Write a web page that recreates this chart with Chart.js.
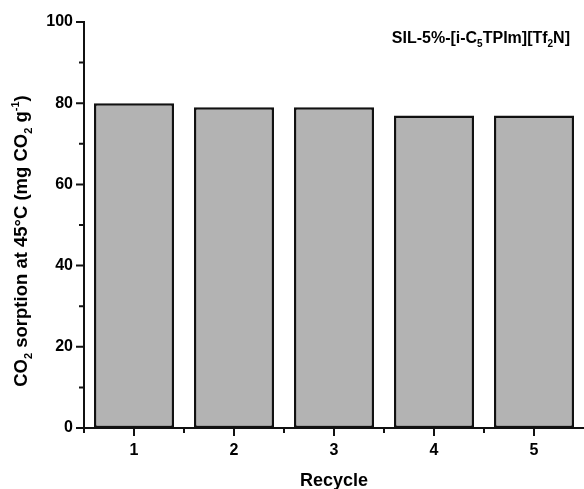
<!DOCTYPE html>
<html>
<head>
<meta charset="utf-8">
<script src="https://cdn.jsdelivr.net/npm/chart.js@4/dist/chart.umd.min.js"></script>
<style>
  html, body { margin: 0; background: #fff; }
  #wrap { width: 584px; height: 489px; }
</style>
</head>
<body>
<div id="wrap"><canvas id="chart"></canvas></div>
<script>
const recycles = ['1', '2', '3', '4', '5'];
const sorption = [80, 79, 79, 77, 77];
const yTicks = [0, 20, 40, 60, 80, 100];

// text pieces: [text, 'sub' | 'sup' | undefined]
const yTitle = [['CO'], ['2', 'sub'], [' sorption at 45°C (mg CO'], ['2', 'sub'], [' g'], ['-1', 'sup'], [')']];
const note = [['SIL-5%-[i-C'], ['5', 'sub'], ['TPIm][Tf'], ['2', 'sub'], ['N]']];

const FONT = '"Liberation Sans", Arial, sans-serif';

function partFont(p, size) {
    let s = p[1] ? Math.round(size * 0.62) : size;
    return 'bold ' + s + 'px ' + FONT;
}

function richWidth(ctx, parts, size) {
    let w = 0;
    parts.forEach(p => {
        ctx.font = partFont(p, size);
        w += ctx.measureText(p[0]).width;
    });
    return w;
}

// draws from x (left), y = baseline
function drawRich(ctx, parts, x, y, size) {
    ctx.fillStyle = '#000';
    ctx.textBaseline = 'alphabetic';
    ctx.textAlign = 'left';
    parts.forEach(p => {
        ctx.font = partFont(p, size);
        let dy = 0;
        if (p[1] === 'sub') dy = size * 0.28;
        if (p[1] === 'sup') dy = -size * 0.42;
        ctx.fillText(p[0], x, y + dy);
        x += ctx.measureText(p[0]).width;
    });
}

const extras = {
    id: 'extras',
    afterDraw(chart) {
        const ctx = chart.ctx;
        const xs = chart.scales.x;
        const ys = chart.scales.y;
        const area = chart.chartArea;
        ctx.save();
        ctx.strokeStyle = '#111';
        ctx.lineWidth = 2;
        ctx.beginPath();
        // y ticks, major + minor between
        yTicks.forEach((v, i) => {
            let py = ys.getPixelForValue(v);
            ctx.moveTo(area.left - 8, py);
            ctx.lineTo(area.left, py);
            if (i < yTicks.length - 1) {
                let my = ys.getPixelForValue((v + yTicks[i + 1]) / 2);
                ctx.moveTo(area.left - 5, my);
                ctx.lineTo(area.left, my);
            }
        });
        // x ticks at categories, minor at boundaries
        recycles.forEach((c, i) => {
            let px = xs.getPixelForValue(i);
            ctx.moveTo(px, area.bottom);
            ctx.lineTo(px, area.bottom + 8);
            let bx = xs.getPixelForValue(i - 0.5);
            ctx.moveTo(bx, area.bottom);
            ctx.lineTo(bx, area.bottom + 5);
        });
        ctx.stroke();

        // y axis title
        const size = 18.5;
        let w = richWidth(ctx, yTitle, size);
        let cy = (area.top + area.bottom) / 2 + 16;
        ctx.translate(27, cy);
        ctx.rotate(-Math.PI / 2);
        drawRich(ctx, yTitle, -w / 2, 0, size);
        ctx.restore();

        // annotation top right
        ctx.save();
        let nw = richWidth(ctx, note, 16);
        drawRich(ctx, note, 570 - nw, 43, 16);
        ctx.restore();
    }
};

new Chart(document.getElementById('chart'), {
    type: 'bar',
    data: {
        labels: recycles,
        datasets: [
            {
                data: sorption,
                backgroundColor: '#b3b3b3',
                borderColor: '#111',
                borderWidth: 2.5,
                borderSkipped: false,
                barPercentage: 0.8,
                categoryPercentage: 1,
            },
        ],
    },
    plugins: [extras],
    options: {
        responsive: true,
        maintainAspectRatio: false,
        animation: false,
        layout: {
            padding: { top: 22, right: 0, left: 0, bottom: 0 },
        },
        scales: {
            x: {
                offset: true,
                grid: { display: false, drawTicks: false },
                border: { display: true, color: '#111', width: 2 },
                ticks: {
                    color: '#000',
                    padding: 13,
                    font: { family: FONT, size: 16, weight: 'bold' },
                },
                title: {
                    display: true,
                    text: 'Recycle',
                    color: '#000',
                    padding: { top: 0, bottom: -3 },
                    font: { family: FONT, size: 18, weight: 'bold' },
                },
                afterFit: s => { s.height = 61; },
            },
            y: {
                min: 0,
                max: 100,
                grid: { display: false, drawTicks: false },
                border: { display: true, color: '#111', width: 2 },
                ticks: {
                    stepSize: 20,
                    color: '#000',
                    padding: 11,
                    font: { family: FONT, size: 16, weight: 'bold' },
                },
                afterFit: s => { s.width = 84; },
            },
        },
        plugins: {
            legend: { display: false },
            tooltip: { enabled: false },
        },
    },
});
</script>
</body>
</html>
